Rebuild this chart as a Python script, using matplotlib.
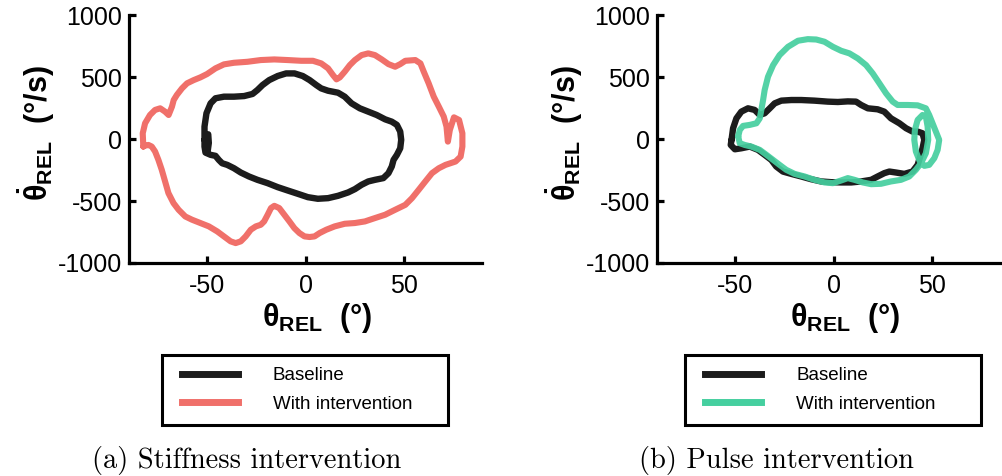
import matplotlib
matplotlib.use("Agg")
import matplotlib.pyplot as plt
from matplotlib.lines import Line2D
from matplotlib.legend_handler import HandlerLine2D

plt.rcParams['font.family'] = ['Liberation Sans', 'DejaVu Sans']
plt.rcParams['mathtext.fontset'] = 'custom'
plt.rcParams['mathtext.rm'] = 'Liberation Sans'
plt.rcParams['mathtext.it'] = 'Liberation Sans:italic'
plt.rcParams['mathtext.bf'] = 'Liberation Sans:bold'
plt.rcParams['axes.unicode_minus'] = False

#=== phase portraits: joint angle (deg) vs angular velocity (deg/s) ===

# (a) stiffness intervention
stiff_base_ang = [-51.5, -51.5, -50.5, -48.4, -45.9, -41.6, -36.5, -31.3, -27.0, -24.5,
                  -21.9, -18.5, -14.2, -9.9, -5.6, -1.4, 2.1, 5.5, 8.0, 11.5,
                  16.6, 20.0, 23.5, 27.7, 32.0, 36.3, 40.6, 44.0, 46.6, 48.3,
                  48.8, 48.3, 46.6, 44.9, 44.0, 42.3, 39.7, 35.4, 32.0, 28.6,
                  25.2, 21.7, 16.6, 11.5, 6.3, 1.2, -3.9, -9.1, -14.2, -19.3,
                  -24.5, -28.8, -33.0, -36.5, -39.9, -42.5, -44.2, -45.9, -48.4, -51.0,
                  -51.5, -51.5, -49.6, -49.3, -50.0]
stiff_base_vel = [-5, 102, 210, 290, 331, 344, 344, 349, 366, 398,
                  438, 478, 511, 532, 532, 511, 478, 438, 411, 392,
                  376, 344, 290, 250, 223, 196, 161, 142, 116, 62,
                  -5, -73, -126, -167, -220, -274, -314, -328, -341, -368,
                  -403, -430, -457, -476, -481, -468, -441, -414, -387, -355,
                  -328, -301, -269, -234, -207, -194, -167, -134, -126, -108,
                  -59, -5, 40, -30, -110]

stiff_int_ang = [-82.7, -83.0, -81.8, -79.3, -76.7, -74.1, -71.6, -69.8, -68.1, -67.2,
                 -65.6, -63.0, -60.4, -57.0, -53.6, -50.2, -45.9, -41.6, -36.5, -29.6,
                 -22.8, -15.9, -9.1, -2.2, 3.8, 8.0, 11.5, 14.0, 15.8, 17.5,
                 20.0, 22.6, 25.2, 28.6, 32.0, 35.4, 38.9, 42.3, 45.7, 48.3,
                 50.9, 56.0, 58.6, 60.3, 62.8, 65.4, 68.0, 70.5, 71.9, 72.6,
                 73.6, 75.7, 78.3, 80.0, 80.0, 79.1, 76.5, 71.4, 68.0, 64.5,
                 61.1, 57.7, 54.3, 50.9, 45.7, 40.6, 35.4, 30.3, 25.2, 20.0,
                 14.9, 10.6, 7.2, 4.6, 2.1, -0.5, -3.1, -5.7, -8.2, -10.8,
                 -13.4, -15.9, -17.6, -19.3, -21.1, -22.8, -25.3, -27.9, -30.5, -33.0,
                 -35.6, -38.2, -41.6, -45.0, -49.3, -53.6, -57.9, -61.3, -64.7, -67.3,
                 -69.9, -71.6, -73.3, -75.0, -76.7, -78.4, -80.1, -82.4, -82.7]
stiff_int_vel = [-59, 48, 129, 196, 237, 250, 223, 196, 263, 317,
                 358, 411, 452, 478, 500, 527, 573, 605, 618, 626,
                 640, 645, 640, 634, 634, 613, 573, 519, 484, 500,
                 546, 599, 640, 680, 694, 680, 645, 607, 586, 607,
                 634, 640, 613, 546, 452, 344, 263, 183, 102, -19,
                 75, 177, 156, 48, -59, -140, -180, -207, -234, -274,
                 -341, -409, -476, -530, -570, -610, -637, -664, -677, -683,
                 -704, -731, -758, -785, -790, -785, -758, -718, -664, -610,
                 -556, -538, -556, -610, -664, -691, -704, -731, -785, -825,
                 -839, -825, -785, -745, -704, -677, -650, -624, -570, -516,
                 -435, -341, -247, -167, -99, -59, -46, -54, -59]

# (b) pulse intervention
pulse_base_ang = [-52.0, -51.2, -49.5, -47.0, -43.6, -40.2, -37.6, -35.1, -32.5, -30.0,
                  -26.6, -21.5, -16.4, -9.7, -2.9, 2.2, 7.3, 11.5, 14.1, 17.5,
                  22.5, 25.9, 29.3, 33.6, 37.0, 40.3, 42.9, 45.4, 46.3, 45.4,
                  44.2, 42.9, 40.3, 36.1, 31.9, 28.5, 25.9, 22.5, 19.2, 14.1,
                  9.0, 3.9, -1.2, -6.3, -11.4, -16.4, -21.5, -25.8, -29.2, -31.7,
                  -35.1, -38.5, -42.7, -47.0, -50.3, -52.4, -52.0]
pulse_base_vel = [-5, 89, 169, 223, 250, 237, 196, 210, 250, 290,
                  312, 317, 317, 312, 304, 301, 306, 304, 277, 250,
                  242, 223, 169, 129, 89, 62, 62, 48, -5, -73,
                  -140, -207, -261, -280, -269, -261, -274, -301, -328, -341,
                  -349, -349, -347, -341, -323, -301, -280, -261, -220, -167,
                  -126, -86, -59, -73, -81, -46, -5]

pulse_int_ang = [-48.6, -47.8, -46.1, -42.7, -39.3, -37.6, -36.8, -35.9, -35.1, -33.4,
                 -30.8, -27.5, -23.2, -18.1, -13.1, -8.8, -4.6, -0.3, 3.9, 8.1,
                 12.4, 16.6, 20.0, 23.4, 26.8, 30.2, 32.7, 37.8, 42.9, 47.1,
                 48.8, 50.5, 52.2, 53.9, 53.1, 51.4, 48.8, 46.3, 43.7, 42.0,
                 41.2, 41.5, 42.9, 45.4, 47.1, 48.0, 48.3, 47.1, 44.6, 42.0,
                 38.6, 34.4, 29.3, 24.2, 19.2, 14.9, 10.7, 7.3, 3.9, -0.3,
                 -4.6, -9.7, -14.7, -19.8, -24.1, -27.5, -30.8, -34.2, -37.6, -41.9,
                 -45.3, -47.8, -48.6]
pulse_int_vel = [22, 75, 108, 116, 129, 169, 237, 317, 398, 505,
                 599, 680, 747, 796, 809, 806, 788, 747, 715, 694,
                 653, 599, 532, 452, 371, 304, 277, 277, 274, 250,
                 196, 129, 62, -5, -86, -153, -207, -215, -167, -99,
                 -5, 75, 156, 196, 183, 102, -5, -113, -194, -247,
                 -301, -328, -341, -360, -363, -349, -328, -314, -333, -355,
                 -349, -328, -301, -280, -247, -207, -167, -126, -86, -59,
                 -46, -32, 22]

series_labels = ['Baseline', 'With intervention']
captions = ['(a) Stiffness intervention', '(b) Pulse intervention']

base_color = '#1c1c1c'
stiff_color = '#f0706a'
pulse_color = '#45cf9f'


def style_axes(ax):
	""" thick left/bottom spines, inward ticks """
	for side in ('top', 'right'):
		ax.spines[side].set_visible(False)
	for side in ('left', 'bottom'):
		ax.spines[side].set_linewidth(2.3)
	ax.set_xlim(-90, 90)
	ax.set_ylim(-1000, 1000)
	ax.set_xticks([-50, 0, 50])
	ax.set_yticks([-1000, -500, 0, 500, 1000])
	ax.tick_params(direction='in', length=5, width=2.3, labelsize=18)
	ax.tick_params(axis='x', pad=8)
	ax.tick_params(axis='y', pad=5)
	ax.set_xlabel(r'$\mathbf{θ_{REL}}$  (°)', fontsize=22, fontweight='bold')
	ax.set_ylabel(r'$\mathbf{\dot{θ}_{REL}}$  (°/s)', fontsize=22, fontweight='bold')
	#NOTE fixed label spots so both panels line up
	ax.xaxis.set_label_coords(0.533, -0.154)
	ax.yaxis.set_label_coords(-0.204, 0.525)
	ax.patch.set_visible(False)


fig = plt.figure(figsize=(10.02, 4.76), dpi=100)
W, H = 1002.0, 476.0
ax1 = fig.add_axes([129/W, 1-263/H, 353/W, 247.5/H])
ax2 = fig.add_axes([657/W, 1-263/H, 353/W, 247.5/H])

ax1.plot(stiff_int_ang, stiff_int_vel, color=stiff_color, lw=4.4, solid_capstyle='round', solid_joinstyle='round')
ax1.plot(stiff_base_ang, stiff_base_vel, color=base_color, lw=4.6, solid_capstyle='round', solid_joinstyle='round')

ax2.plot(pulse_base_ang, pulse_base_vel, color=base_color, lw=4.6, solid_capstyle='round', solid_joinstyle='round')
ax2.plot(pulse_int_ang, pulse_int_vel, color=pulse_color, lw=4.4, alpha=0.92, solid_capstyle='round', solid_joinstyle='round')

for ax in (ax1, ax2):
	style_axes(ax)

#NOTE legends sit below each panel, in figure coords
legend_boxes = [(162/W, 1-422/H, 286/W, 67/H), (685/W, 1-422/H, 296/W, 67/H)]
int_colors = [stiff_color, pulse_color]
for box, col in zip(legend_boxes, int_colors):
	handles = [Line2D([], [], color=base_color, lw=5), Line2D([], [], color=col, lw=5)]
	leg = fig.legend(handles, series_labels, bbox_to_anchor=box, bbox_transform=fig.transFigure,
					 loc='upper left', mode='expand', borderaxespad=0, fontsize=13.5,
					 handlelength=3.4, handletextpad=1.87, borderpad=0.65, labelspacing=0.6,
					 fancybox=False, framealpha=1,
					 handler_map={Line2D: HandlerLine2D(xpad=0.42)})
	leg.get_frame().set_edgecolor('black')
	leg.get_frame().set_linewidth(2.2)

fig.text(247/W, 1-468/H, captions[0], family='cmr10', fontsize=20.5, ha='center', va='baseline')
fig.text(776/W, 1-468/H, captions[1], family='cmr10', fontsize=20.5, ha='center', va='baseline')

fig.savefig('out.png', dpi=100)
